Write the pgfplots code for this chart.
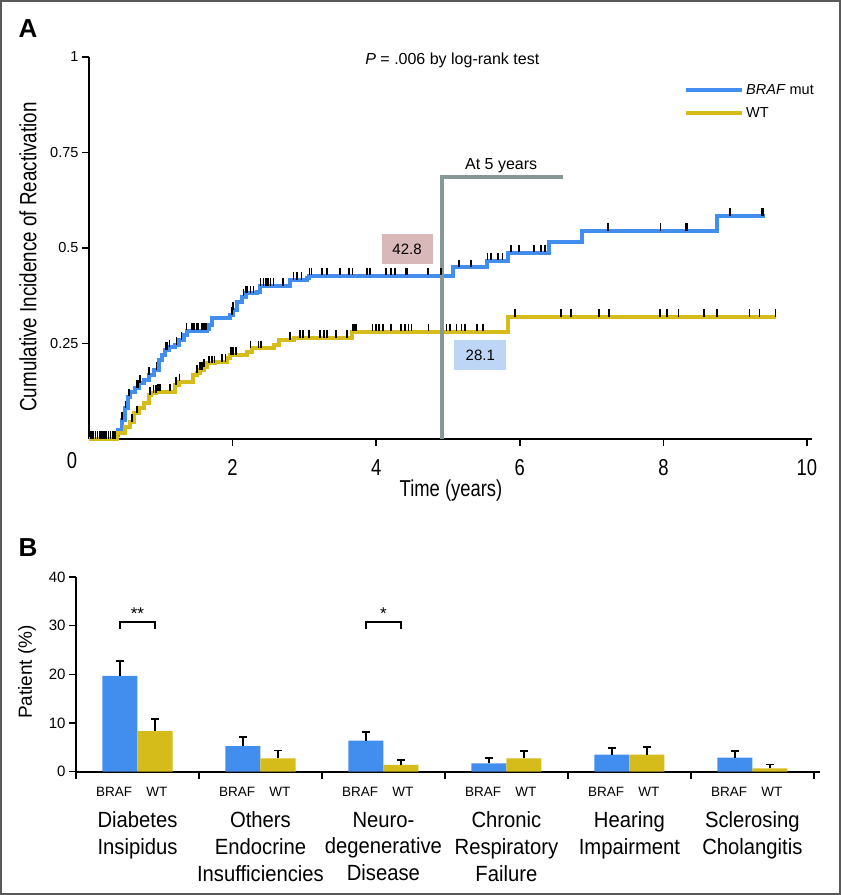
\documentclass[border=0pt]{standalone}
\usepackage{fontspec}
\setmainfont{Liberation Sans}
\newfontfamily\cond{Liberation Sans}[FakeStretch=0.8]
\newfontfamily\condb{Liberation Sans}[FakeStretch=0.92]
\usepackage{pgfplots}
\usepackage{pgfplotstable}
\pgfplotsset{compat=1.18}

\definecolor{braf}{RGB}{66,142,238}
\definecolor{wt}{RGB}{214,188,26}
\definecolor{fivey}{RGB}{135,150,150}
\definecolor{boxred}{RGB}{216,184,184}
\definecolor{boxblue}{RGB}{190,214,246}
\newcommand{\fs}[2]{\fontsize{#1}{#2}\selectfont}

% cumulative incidence, BRAF mut (step starts at t)
\pgfplotstableread{
t y
0 0
0.36 0.010
0.41 0.024
0.456 0.050
0.50 0.080
0.55 0.111
0.57 0.124
0.64 0.133
0.69 0.146
0.76 0.154
0.83 0.168
0.90 0.181
0.97 0.207
1.01 0.220
1.06 0.233
1.11 0.240
1.20 0.246
1.25 0.259
1.32 0.272
1.36 0.284
1.64 0.287
1.665 0.298
1.71 0.316
1.97 0.325
2.01 0.338
2.06 0.359
2.13 0.373
2.18 0.381
2.34 0.386
2.385 0.400
2.80 0.416
3.04 0.421
3.06 0.428
5.07 0.449
5.54 0.467
5.83 0.488
6.40 0.517
6.86 0.545
8.75 0.583
9.41 0.583
}\brafcurve

% cumulative incidence, WT
\pgfplotstableread{
t y
0 0
0.39 0.015
0.50 0.032
0.57 0.045
0.62 0.067
0.69 0.080
0.76 0.093
0.83 0.115
0.87 0.120
0.94 0.124
1.20 0.141
1.25 0.150
1.455 0.168
1.50 0.172
1.55 0.181
1.60 0.189
1.64 0.198
1.76 0.202
1.92 0.211
1.97 0.220
2.20 0.229
2.27 0.237
2.57 0.246
2.64 0.259
2.85 0.264
3.66 0.281
5.84 0.319
9.57 0.319
}\wtcurve

% censored observations
\pgfplotstableread{
t y
0.03 0
0.06 0
0.09 0
0.12 0
0.15 0
0.18 0
0.21 0
0.24 0
0.27 0
0.30 0
0.33 0
0.36 0
}\zerotick

\pgfplotstableread{
t y
0.46 0.050
0.51 0.080
0.56 0.111
0.66 0.133
0.68 0.133
0.71 0.146
0.84 0.168
0.94 0.181
1.07 0.233
1.09 0.233
1.12 0.240
1.22 0.246
1.29 0.259
1.36 0.284
1.43 0.284
1.45 0.284
1.47 0.284
1.50 0.284
1.52 0.284
1.57 0.284
1.60 0.284
1.63 0.284
1.99 0.325
2.01 0.338
2.15 0.373
2.18 0.381
2.20 0.381
2.25 0.381
2.29 0.381
2.39 0.400
2.43 0.400
2.46 0.400
2.48 0.400
2.50 0.400
2.53 0.400
2.57 0.400
2.70 0.400
2.85 0.416
2.90 0.416
2.96 0.416
3.07 0.428
3.10 0.428
3.25 0.428
3.31 0.428
3.50 0.428
3.62 0.428
3.67 0.428
3.87 0.428
3.91 0.428
4.14 0.428
4.21 0.428
4.26 0.428
4.41 0.428
4.43 0.428
4.72 0.428
4.90 0.428
5.15 0.449
5.32 0.449
5.55 0.467
5.60 0.467
5.70 0.467
5.76 0.467
5.88 0.488
5.99 0.488
6.20 0.488
6.30 0.488
6.35 0.488
7.23 0.545
7.96 0.545
8.31 0.545
8.33 0.545
8.93 0.583
9.37 0.583
9.39 0.583
}\braftick

\pgfplotstableread{
t y
0.60 0.045
0.67 0.067
0.85 0.115
0.90 0.120
0.93 0.120
0.96 0.124
0.99 0.124
1.13 0.124
1.21 0.141
1.26 0.150
1.50 0.172
1.55 0.181
1.57 0.181
1.60 0.189
1.67 0.198
1.71 0.198
1.75 0.198
1.85 0.202
1.90 0.202
1.98 0.220
2.01 0.220
2.05 0.220
2.25 0.237
2.36 0.237
2.40 0.237
2.80 0.259
2.94 0.264
2.98 0.264
3.06 0.264
3.22 0.264
3.27 0.264
3.31 0.264
3.44 0.264
3.59 0.264
3.68 0.281
3.70 0.281
3.72 0.281
3.95 0.281
4.00 0.281
4.04 0.281
4.09 0.281
4.21 0.281
4.35 0.281
4.40 0.281
4.45 0.281
4.49 0.281
4.73 0.281
4.98 0.281
5.03 0.281
5.12 0.281
5.19 0.281
5.24 0.281
5.40 0.281
5.49 0.281
5.93 0.319
6.57 0.319
6.71 0.319
7.10 0.319
7.24 0.319
7.95 0.319
8.05 0.319
8.21 0.319
8.57 0.319
8.75 0.319
9.20 0.319
9.34 0.319
9.56 0.319
}\wttick

% panel B: patient percentages with upper error
\pgfplotstableread{
xb xw b be w we
-0.1425 0.1425 19.7 3.1 8.36 2.4
0.8575 1.1425 5.28 1.8 2.75 1.6
1.8575 2.1425 6.37 1.85 1.38 1.0
2.8575 3.1425 1.72 1.1 2.75 1.5
3.8575 4.1425 3.5 1.45 3.5 1.65
4.8575 5.1425 2.88 1.4 0.69 0.8
}\bardata

\begin{document}
\begin{tikzpicture}
\useasboundingbox (0pt,0pt) rectangle (841pt,895pt);
\draw[line width=2pt, black!65] (1pt,1pt) rectangle (840pt,894pt);

\node[font=\bfseries\fs{26pt}{28pt}] at (28pt,866pt) {A};
\node[font=\bfseries\fs{26pt}{28pt}] at (28pt,347pt) {B};
\node[rotate=90, font=\cond\fs{23.5pt}{25pt}] at (28pt,638pt) {Cumulative Incidence of Reactivation};
\node[font=\cond\fs{23pt}{25pt}] at (451pt,404pt) {Time (years)};
\node[rotate=90, font=\fs{19pt}{21pt}] at (27pt,223pt) {Patient (\%)};

\begin{axis}[
  at={(89pt,456pt)}, anchor=south west,
  scale only axis, width=723pt, height=382pt,
  xmin=0, xmax=10.07, ymin=0, ymax=1,
  axis lines=left, axis line style={-, line width=1.8pt},
  tick align=outside, major tick length=7pt,
  tick style={black, line width=1.5pt},
  xtick={2,4,6,8,10}, xticklabels={2,4,6,8,10},
  extra x ticks={0}, extra x tick labels={0},
  extra x tick style={major tick length=0pt, tick label style={xshift=-17pt}},
  ytick={0.25,0.5,0.75,1}, yticklabels={0.25,0.5,0.75,1},
  xticklabel style={font=\cond\fs{23pt}{25pt}, yshift=-10pt},
  yticklabel style={font=\fs{14.5pt}{16pt}},
  clip=false,
  legend style={at={(0.823,0.935)}, anchor=north west, draw=none, fill=none,
    font=\fs{14.5pt}{16pt}, row sep=8pt, inner sep=0pt},
  legend cell align=left,
  legend image code/.code={\draw[#1, line width=4pt] (0pt,0pt) -- (56pt,0pt);},
]
\addplot[braf, line width=4pt, const plot] table {\brafcurve};
\addlegendentry{\textit{BRAF} mut}
\addplot[wt, line width=4pt, const plot] table {\wtcurve};
\addlegendentry{WT}
\addplot[forget plot, only marks, mark=|, mark size=3.8pt,
  mark options={black, line width=1.7pt, yshift=4pt}] table {\zerotick};
\addplot[forget plot, only marks, mark=|, mark size=3.8pt,
  mark options={black, line width=1.7pt, yshift=4pt}] table {\braftick};
\addplot[forget plot, only marks, mark=|, mark size=3.8pt,
  mark options={black, line width=1.7pt, yshift=4pt}] table {\wttick};

\draw[fivey, line width=4pt] (axis cs:4.92,0) -- (axis cs:4.92,0.686) -- (axis cs:6.6,0.686);
\node[font=\fs{16pt}{18pt}] at (axis cs:5.74,0.716) {At 5 years};
\node[fill=boxred, minimum width=51pt, minimum height=30pt, inner sep=0pt, font=\fs{15pt}{17pt}] at (axis cs:4.43,0.497) {42.8};
\node[fill=boxblue, minimum width=52pt, minimum height=30pt, inner sep=0pt, font=\fs{15pt}{17pt}] at (axis cs:5.45,0.22) {28.1};
\node[font=\fs{16pt}{18pt}] at (axis cs:5.06,0.992) {\textit{P} = .006 by log-rank test};
\end{axis}

\begin{axis}[
  at={(76pt,123.3pt)}, anchor=south west,
  scale only axis, width=744pt, height=194.7pt,
  xmin=-0.5, xmax=5.55, ymin=0, ymax=40,
  axis lines=left, axis line style={-, line width=1.8pt},
  tick align=outside, major tick length=7pt,
  tick style={black, line width=1.5pt},
  xtick={-0.5,0.5,1.5,2.5,3.5,4.5,5.5}, xticklabels={,,,,,,},
  ytick={0,10,20,30,40}, yticklabels={0,10,20,30,40},
  yticklabel style={font=\fs{15pt}{17pt}},
  clip=false,
]
\addplot[ybar, bar width=0.285, bar shift=0pt, fill=braf, draw=none,
  error bars/.cd, y dir=plus, y explicit,
  error bar style={black, line width=1.8pt},
  error mark options={black, line width=1.8pt, mark size=4pt, rotate=90}]
  table[x=xb, y=b, y error=be] {\bardata};
\addplot[ybar, bar width=0.285, bar shift=0pt, fill=wt, draw=none,
  error bars/.cd, y dir=plus, y explicit,
  error bar style={black, line width=1.8pt},
  error mark options={black, line width=1.8pt, mark size=4pt, rotate=90}]
  table[x=xw, y=w, y error=we] {\bardata};

\draw[black, line width=1.5pt] (axis cs:-0.1425,29.4) |- (axis cs:0.1425,30.8) -- (axis cs:0.1425,29.4);
\node[font=\fs{17pt}{18pt}] at (axis cs:0,32.4) {**};
\draw[black, line width=1.5pt] (axis cs:1.8575,29.4) |- (axis cs:2.1425,30.8) -- (axis cs:2.1425,29.4);
\node[font=\fs{17pt}{18pt}] at (axis cs:2,32.4) {*};

\tikzset{bw/.style={font=\fs{13.5pt}{15pt}, yshift=-20pt},
  cat/.style={font=\condb\fs{22pt}{26.7pt}, anchor=north, align=center, inner sep=0pt, yshift=-40pt}}
\node[bw] at (axis cs:-0.19,0) {BRAF};  \node[bw] at (axis cs:0.158,0) {WT};
\node[bw] at (axis cs:0.81,0) {BRAF};   \node[bw] at (axis cs:1.158,0) {WT};
\node[bw] at (axis cs:1.81,0) {BRAF};   \node[bw] at (axis cs:2.158,0) {WT};
\node[bw] at (axis cs:2.81,0) {BRAF};   \node[bw] at (axis cs:3.158,0) {WT};
\node[bw] at (axis cs:3.81,0) {BRAF};   \node[bw] at (axis cs:4.158,0) {WT};
\node[bw] at (axis cs:4.81,0) {BRAF};   \node[bw] at (axis cs:5.158,0) {WT};
\node[cat] at (axis cs:0,0) {Diabetes\\Insipidus};
\node[cat] at (axis cs:1,0) {Others\\Endocrine\\Insufficiencies};
\node[cat] at (axis cs:2,0) {Neuro-\\degenerative\\Disease};
\node[cat] at (axis cs:3,0) {Chronic\\Respiratory\\Failure};
\node[cat] at (axis cs:4,0) {Hearing\\Impairment};
\node[cat] at (axis cs:5,0) {Sclerosing\\Cholangitis};
\end{axis}
\end{tikzpicture}
\end{document}
